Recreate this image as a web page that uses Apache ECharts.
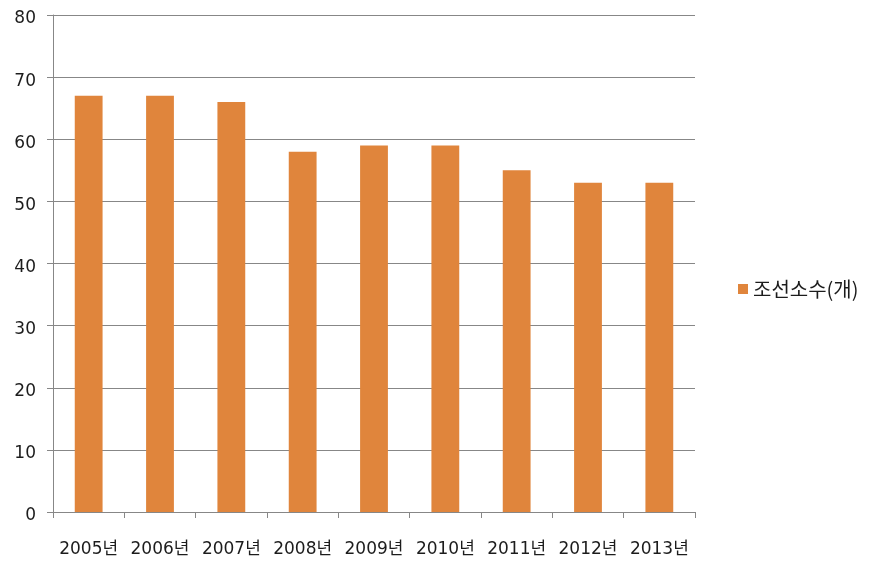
<!DOCTYPE html>
<html>
<head>
<meta charset="utf-8">
<script src="https://cdn.jsdelivr.net/npm/echarts@6/dist/echarts.min.js"></script>
<style>
  html, body { margin: 0; padding: 0; background: #fff; }
  #chart { width: 872px; height: 564px; }
</style>
</head>
<body>
<div id="chart"></div>
<script>
// Number of shipyards per year
const years = ['2005년', '2006년', '2007년', '2008년', '2009년', '2010년', '2011년', '2012년', '2013년'];
const shipyardCounts = [67, 67, 66, 58, 59, 59, 55, 53, 53];
const seriesName = '조선소수(개)';

const latinFont = '"DejaVu Sans", "Noto Sans CJK KR", sans-serif';
const krFont = '"Noto Sans CJK KR", "DejaVu Sans", sans-serif';
const axisGray = '#878787';
const textColor = '#1c1c1c';

const chart = echarts.init(document.getElementById('chart'), null, { renderer: 'canvas' });
chart.setOption({
  animation: false,
  backgroundColor: '#ffffff',
  grid: { left: 53, right: 177, top: 15, bottom: 52, containLabel: false },
  legend: {
    orient: 'vertical',
    left: 733,
    top: 274,
    itemWidth: 10,
    itemHeight: 10,
    itemGap: 6,
    icon: 'rect',
    textStyle: { fontFamily: krFont, fontSize: 20, color: textColor },
    data: [seriesName]
  },
  xAxis: {
    type: 'category',
    data: years,
    boundaryGap: true,
    axisLine: { lineStyle: { color: axisGray, width: 1 } },
    axisTick: { show: true, length: 6, alignWithLabel: false, lineStyle: { color: axisGray } },
    axisLabel: { fontFamily: latinFont, fontSize: 17, color: textColor, margin: 29, interval: 0 }
  },
  yAxis: {
    type: 'value',
    min: 0,
    max: 80,
    interval: 10,
    axisLine: { show: true, lineStyle: { color: axisGray, width: 1 } },
    axisTick: { show: true, length: 6, lineStyle: { color: axisGray } },
    splitLine: { lineStyle: { color: axisGray, width: 1 } },
    axisLabel: {
      margin: 17,
      formatter: v => '{n|' + v + '}',
      rich: {
        n: { fontFamily: latinFont, fontSize: 17, color: textColor, padding: [8, 0, 0, 0] }
      }
    }
  },
  series: [{
    name: seriesName,
    type: 'bar',
    data: shipyardCounts,
    barWidth: '39%',
    itemStyle: { color: '#E0853C' }
  }]
});
</script>
</body>
</html>
